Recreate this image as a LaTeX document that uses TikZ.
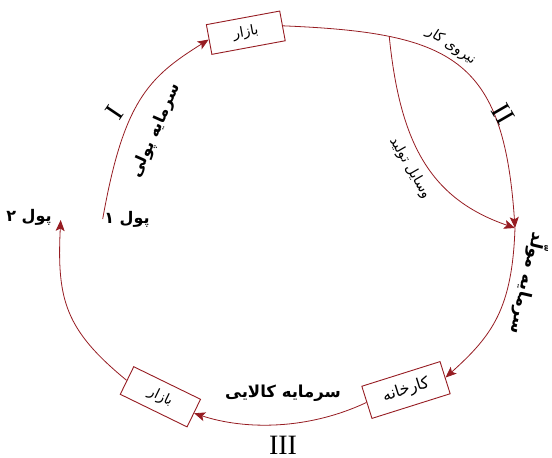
\documentclass[tikz,border=0pt]{standalone}
\usepackage{fontspec}
\usetikzlibrary{arrows.meta}
\setmainfont{Liberation Serif}
\newfontfamily\fa[Script=Arabic]{DejaVu Sans}
\TeXXeTstate=1
\definecolor{dred}{RGB}{150,28,34}
\begin{document}
\begin{tikzpicture}[x=1pt,y=-1pt,
  every node/.style={inner sep=0pt},
  box/.style={draw=dred, line width=0.9pt, fill=white, font=\fa\fontsize{14}{16}\selectfont},
  link/.style={draw=dred, line width=0.8pt},
  tip/.style={-{Stealth[length=11pt,width=9pt,inset=2.5pt]}},
  lblreg/.style={font=\fa\fontsize{14}{16}\selectfont},
  lblbold/.style={font=\fa\bfseries\fontsize{16}{18}\selectfont},
  pul/.style={font=\fa\bfseries\fontsize{16}{18}\selectfont},
  roman/.style={font=\fontsize{28}{30}\selectfont}]
\useasboundingbox (0,0) rectangle (552,458);

% boxes
\node[box, minimum width=74.6pt, minimum height=30.2pt, rotate=10.5] (bz1) at (245.8,32.7) {\beginR بازار\endR};
\node[box, minimum width=82pt, minimum height=33.7pt, rotate=17.5, font=\fa\fontsize{16}{18}\selectfont] (kh) at (406,390) {\beginR کارخانه\endR};
\node[box, minimum width=74.3pt, minimum height=30.7pt, rotate=-26] (bz2) at (160.4,396.8) {\beginR بازار\endR};

% free ends of the cycle
\coordinate (p1) at (102.7,219);
\coordinate (p2) at (60.7,220);
\coordinate (m) at (515,228);

% connectors
\draw[link,tip] (p1) .. controls (123.6,100.8) and (148.6,77.1) .. (bz1.west);
\draw[link,tip] (bz1.east) .. controls (452.8,32.8) and (503.6,58.3) .. (m) coordinate[pos=0.25] (fork);
\draw[link,tip] (fork) .. controls (400,143) and (429.9,198.7) .. (m);
\draw[link,tip] (m) .. controls (512.2,307.9) and (493,334.9) .. (kh.east);
\draw[link,tip] (kh.west) .. controls (308,430) and (245,430) .. (bz2.east);
\draw[link,tip] (bz2.west) .. controls (65.4,330.1) and (56.7,300) .. (p2);

% labels
\node[lblbold, rotate=66] (t1) at (156,131) {\beginR سرمایه پولی\endR};
\node[roman, rotate=56] (r1) at (115,112.5) {I};
\node[lblreg, rotate=-33] (t2) at (451,46) {\beginR نیروی کار\endR};
\node[roman, rotate=-60] (r2) at (503,114) {II};
\node[lblreg, rotate=-60] (t3) at (410,168) {\beginR وسایل تولید\endR};
\node[lblbold, font=\fa\bfseries\fontsize{17}{19}\selectfont, rotate=-103] (t4) at (529,284) {\beginR سرمایه مولّد\endR};
\node[lblbold, font=\fa\bfseries\fontsize{16.5}{19}\selectfont] (t5) at (283,393) {\beginR سرمایه کالایی\endR};
\node[roman] (r3) at (283,445) {III};
\node[pul] (t6) at (127,219) {\beginR پول ۱\endR};
\node[pul] (t7) at (29,217) {\beginR پول ۲\endR};
\end{tikzpicture}
\end{document}
